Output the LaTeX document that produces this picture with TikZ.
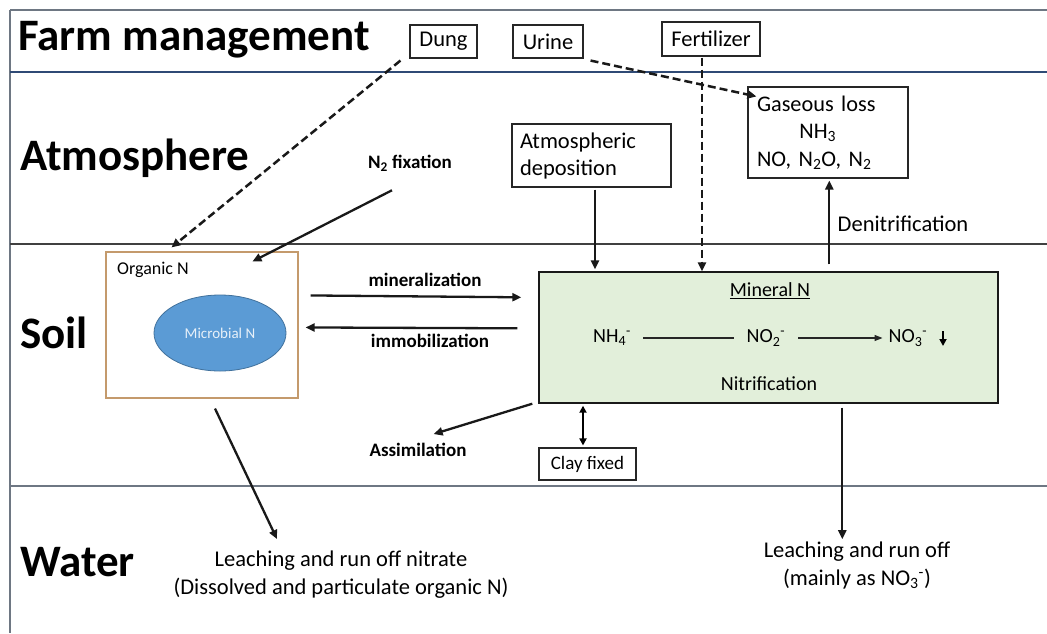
\documentclass[tikz,border=0pt]{standalone}
\usepackage{fontspec}
\setmainfont{Carlito}
\usetikzlibrary{arrows.meta,calc,shapes.geometric}
\definecolor{navyline}{HTML}{2F4A75}
\definecolor{grayline}{HTML}{6E7783}
\definecolor{tanline}{HTML}{C49A6C}
\definecolor{microblue}{HTML}{5B9BD5}
\definecolor{microedge}{HTML}{41719C}
\definecolor{mingreen}{HTML}{E2EFDA}
\tikzset{
  sect/.style={anchor=west, font=\fontsize{45}{50}\selectfont\bfseries, inner sep=0pt},
  fbox/.style={draw=black!85, line width=1.1pt, fill=white, inner sep=0pt, font=\fontsize{22.5}{26}\selectfont},
  lbl/.style={inner sep=0pt, font=\fontsize{22.5}{28}\selectfont},
  blbl/.style={inner sep=0pt, font=\fontsize{19}{22}\selectfont\bfseries},
  flow/.style={line width=2.3pt, draw=black!90, -{Triangle[length=9pt,width=8pt]}},
  dflow/.style={line width=2.5pt, draw=black!90, dash pattern=on 8pt off 4pt, -{Triangle[length=9pt,width=8pt]}},
}
\begin{document}
\begin{tikzpicture}[x=1pt,y=-1pt]
\useasboundingbox (0,0) rectangle (1047,633);
\fill[white] (0,0) rectangle (1047,633);
% frame lines
\draw[grayline, line width=1.5pt] (10,10) -- (1047,10);
\draw[grayline, line width=1.5pt] (10,10) -- (10,633);
\draw[navyline, line width=2.2pt] (10,72) -- (1047,72);
\draw[black!75, line width=1.3pt] (10,244) -- (1047,244);
\draw[grayline, line width=1.6pt] (10,486) -- (1047,486);
% section labels
\node[sect] (farm) at (18,40) {Farm management};
\node[sect] (atmo) at (20,158) {Atmosphere};
\node[sect] (soil) at (20,333) {Soil};
\node[sect] (water) at (20,562) {Water};
% top boxes
\node[fbox, minimum width=67pt, minimum height=33pt] (dung) at (443.5,41.5) {Dung};
\node[fbox, minimum width=70pt, minimum height=33pt] (urine) at (548,41.5) {Urine};
\node[fbox, minimum width=98pt, minimum height=34pt] (fert) at (711,39) {Fertilizer};
% atmosphere boxes
\node[fbox, font=\fontsize{22.3}{27.5}\selectfont, minimum width=160pt, minimum height=91pt, text width=142pt, align=left] (gas) at (828,132.5)
  {Gaseous loss\\\hspace*{1.9em}NH\textsubscript{3}\\NO, N\textsubscript{2}O, N\textsubscript{2}};
\node[fbox, font=\fontsize{22.5}{27}\selectfont, minimum width=159pt, minimum height=63pt, text width=143pt, align=left] (atm) at (591.5,155.5)
  {Atmospheric\\deposition};
\node[blbl, font=\fontsize{19}{22}\selectfont\bfseries] (n2fix) at (410,163) {N\textsubscript{2} fixation};
\node[lbl] (denit) at (903,224) {Denitrification};
% soil boxes
\node[draw=tanline, line width=1.1pt, minimum width=192pt, minimum height=146pt, inner sep=0pt] (orgN) at (202,325) {};
\node[lbl, font=\fontsize{18}{22}\selectfont, anchor=west] (orgNlbl) at (117,270) {Organic N};
\node[ellipse, draw=microedge, line width=0.8pt, fill=microblue, minimum width=132pt, minimum height=76pt, inner sep=0pt,
      text=white!85!microblue, font=\fontsize{15}{18}\selectfont] (micro) at (220,333) {Microbial N};
\node[draw=black!90, line width=1.4pt, fill=mingreen, minimum width=459pt, minimum height=131pt, inner sep=0pt] (min) at (768.5,337.5) {};
\node[lbl, font=\fontsize{20}{24}\selectfont] (minlbl) at (770,291) {\underline{Mineral N}};
\node[lbl, font=\fontsize{20}{24}\selectfont] (nh4) at (612,338) {NH\textsubscript{4}\textsuperscript{-}};
\node[lbl, font=\fontsize{20}{24}\selectfont] (no2) at (766,338) {NO\textsubscript{2}\textsuperscript{-}};
\node[lbl, font=\fontsize{20}{24}\selectfont] (no3) at (908,338) {NO\textsubscript{3}\textsuperscript{-}};
\node[lbl, font=\fontsize{20}{24}\selectfont] (nitr) at (769,384) {Nitrification};
\coordinate (no3a) at (943,331);
\coordinate (no3b) at (943,346);
\node[blbl] (minz) at (425,280) {mineralization};
\node[blbl] (immz) at (430,341) {immobilization};
\node[blbl] (assim) at (418,450) {Assimilation};
\node[fbox, font=\fontsize{19}{22}\selectfont, minimum width=97pt, minimum height=32pt] (clay) at (587.5,464) {Clay fixed};
% water labels
\node[lbl, align=center, font=\fontsize{22.5}{28}\selectfont] (leach1) at (341,575) {Leaching and run off nitrate\\(Dissolved and particulate organic N)};
\node[lbl, align=center, font=\fontsize{22.5}{28}\selectfont] (leach2) at (857,565) {Leaching and run off\\(mainly as NO\textsubscript{3}\textsuperscript{-})};
% connectors
\draw[dflow] ($(dung.south west)+(-9,2)$) -- ($(orgN.north west)+(66,-4)$);
\draw[flow] ($(n2fix.south)+(-18,19)$) -- ($(orgN.north west)+(147,10)$);
\draw[dflow] ($(urine.south east)+(7,2)$) -- ($(gas.north west)+(9,10)$);
\coordinate (fertfoot) at ($(fert.south)+(-9,1)$);
\draw[dflow] (fertfoot) -- (fertfoot |- min.north);
\coordinate (atmfoot) at ($(atm.south)+(3.5,2)$);
\draw[flow] (atmfoot) -- ($(atmfoot |- min.north)+(0,-2)$);
\coordinate (denfoot) at ($(min.north west)+(291,-7)$);
\draw[flow] (denfoot) -- ($(denfoot |- gas.south)+(0,2)$);
\draw[flow] ($(orgN.north east)+(12,44)$) -- ($(min.north west)+(-17,26)$);
\draw[flow] ($(min.north west)+(-21,57)$) -- ($(orgN.north east)+(7,76)$);
\draw[flow] ($(min.south west)+(-6,0)$) -- ($(assim.north east)+(-33,-9)$);
\coordinate (clayfoot) at ($(clay.north)+(-4.5,-2)$);
\draw[line width=1.8pt, {Triangle[length=7pt,width=7pt]}-{Triangle[length=7pt,width=7pt]}] (clayfoot) -- ($(clayfoot |- min.south)+(0,2)$);
\draw[flow] ($(orgN.south)+(13,10)$) -- ($(leach1.north)+(-64,-12)$);
\coordinate (leachtop) at ($(min.south west)+(304,4)$);
\draw[flow] (leachtop) -- ($(leachtop |- leach2.north)+(0,-2)$);
% inside mineral N
\draw[black!85, line width=1.1pt] ($(nh4.east)+(12,0)$) -- ($(no2.west)+(-13,0)$);
\draw[black!85, line width=1.1pt, -{Triangle[length=8pt,width=6pt]}] ($(no2.east)+(13,0)$) -- ($(no3.west)+(-6,0)$);
\draw[black, line width=1.8pt, -{Triangle[length=7pt,width=7pt]}] (no3a) -- (no3b);
\end{tikzpicture}
\end{document}
